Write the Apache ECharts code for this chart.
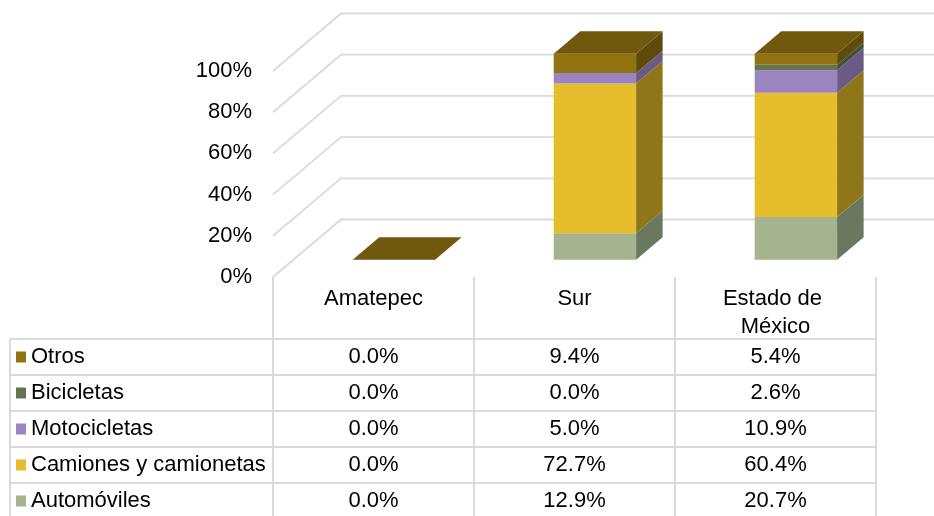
<!DOCTYPE html>
<html>
<head>
<meta charset="utf-8">
<script src="https://cdn.jsdelivr.net/npm/echarts@6/dist/echarts.min.js"></script>
<style>
  html, body { margin: 0; padding: 0; background: #fff; }
  #chart { width: 934px; height: 516px; }
</style>
</head>
<body>
<div id="chart"></div>
<script>
/* 3D-looking stacked column chart (percent share by vehicle type) with a data table below. */
(function () {
  "use strict";

  // ---- data ----
  const CATEGORIES = ["Amatepec", "Sur", "Estado de México"];
  // stack order bottom -> top
  const SERIES_NAMES = ["Automóviles", "Camiones y camionetas", "Motocicletas", "Bicicletas", "Otros"];
  const AUTOMOVILES = [0.0, 12.9, 20.7];
  const CAMIONES = [0.0, 72.7, 60.4];
  const MOTOCICLETAS = [0.0, 5.0, 10.9];
  const BICICLETAS = [0.0, 0.0, 2.6];
  const OTROS = [0.0, 9.4, 5.4];
  const Y_TICKS = [0, 20, 40, 60, 80, 100];

  const VALUES = [AUTOMOVILES, CAMIONES, MOTOCICLETAS, BICICLETAS, OTROS];

  // ---- look ----
  const FONT = "'Liberation Sans', Arial, sans-serif";
  const GRID_COLOR = "#dadada";
  const FRONT = ["#a5b48f", "#e6bd2a", "#9b84bf", "#627450", "#927312"];
  const SIDE = ["#6b7860", "#8f7619", "#6a5a84", "#44523a", "#5e4a0b"];
  const TOP_COLOR = "#70590d";

  // depth projection of the 3D box (full floor depth), bars sit between FRONT_AT and BACK_AT
  const DEPTH_X = 68, DEPTH_Y = -57.5;
  const FRONT_AT = 0.3, BACK_AT = 0.69;
  const BAR_RATIO = 0.41;

  // table layout
  const ROW_CENTERS = [357, 393, 429, 465, 501];
  const ROW_LINES = [339, 375, 411, 447, 483];
  const TABLE_LEFT = 10;
  const GRID = { left: 273, right: 58, top: 71, bottom: 239 };

  const el = document.getElementById("chart");
  const chart = echarts.init(el, null, { renderer: "canvas" });

  // cumulative bases for the stack
  const bases = [];
  let acc = CATEGORIES.map(() => 0);
  VALUES.forEach((vals) => {
    bases.push(acc.slice());
    acc = acc.map((a, i) => a + vals[i]);
  });

  function barRenderer(s) {
    const isTop = s === VALUES.length - 1;
    return function (params, api) {
      const i = api.value(0), lo = api.value(1), hi = api.value(2);
      const b = api.coord([i, lo]);
      const t = api.coord([i, hi]);
      const w = api.size([1, 0])[0] * BAR_RATIO;
      const fx = DEPTH_X * FRONT_AT, fy = DEPTH_Y * FRONT_AT;
      const dx = DEPTH_X * (BACK_AT - FRONT_AT), dy = DEPTH_Y * (BACK_AT - FRONT_AT);
      const x0 = b[0] - w / 2 + fx, x1 = x0 + w;
      const yb = b[1] + fy, yt = t[1] + fy;
      const children = [];
      if (hi > lo) {
        children.push({
          type: "rect", shape: { x: x0, y: yt, width: w, height: yb - yt },
          style: { fill: FRONT[s] },
        });
        children.push({
          type: "polygon",
          shape: { points: [[x1, yb], [x1, yt], [x1 + dx, yt + dy], [x1 + dx, yb + dy]] },
          style: { fill: SIDE[s] },
        });
      }
      if (isTop) {
        children.push({
          type: "polygon",
          shape: { points: [[x0, yt], [x1, yt], [x1 + dx, yt + dy], [x0 + dx, yt + dy]] },
          style: { fill: TOP_COLOR },
        });
      }
      return { type: "group", children };
    };
  }

  function gridRenderer(params, api) {
    const y = api.coord([0, api.value(1)])[1];
    const left = params.coordSys.x;
    const right = params.coordSys.x + params.coordSys.width;
    return {
      type: "polyline",
      shape: { points: [[left, y], [left + DEPTH_X, y + DEPTH_Y], [right + DEPTH_X, y + DEPTH_Y]] },
      style: { stroke: GRID_COLOR, lineWidth: 1.8, fill: null },
    };
  }

  // table rows listed top -> bottom (reverse of stack)
  const tableRows = VALUES.slice().reverse();

  function tableRenderer(params, api) {
    const i = api.value(0);
    const x = api.coord([i, 0])[0];
    return {
      type: "group",
      children: tableRows.map((vals, k) => ({
        type: "text",
        x: x, y: ROW_CENTERS[k],
        style: {
          text: vals[i].toFixed(1) + "%",
          fill: "#000", fontSize: 22, fontFamily: FONT,
          align: "center", verticalAlign: "middle",
        },
      })),
    };
  }

  const series = [{
    type: "custom", name: "grid3d", silent: true, z: 1,
    renderItem: gridRenderer,
    data: Y_TICKS.map((v) => [0, v]),
  }];
  VALUES.forEach((vals, s) => {
    series.push({
      type: "custom", name: SERIES_NAMES[s], z: 2 + s,
      itemStyle: { color: FRONT[s] },
      renderItem: barRenderer(s),
      encode: { x: 0, y: [1, 2] },
      data: vals.map((v, i) => [i, bases[s][i], bases[s][i] + v]),
    });
  });
  series.push({
    type: "custom", name: "tabla", silent: true, z: 10,
    renderItem: tableRenderer,
    data: CATEGORIES.map((c, i) => [i, 0]),
  });

  const tableRight = 934 - GRID.right;
  const graphic = ROW_LINES.map((y) => ({
    type: "line", silent: true,
    shape: { x1: TABLE_LEFT, y1: y, x2: tableRight, y2: y },
    style: { stroke: GRID_COLOR, lineWidth: 2 },
  }));
  graphic.push({
    type: "line", silent: true,
    shape: { x1: TABLE_LEFT, y1: ROW_LINES[0], x2: TABLE_LEFT, y2: 516 },
    style: { stroke: GRID_COLOR, lineWidth: 2 },
  });

  chart.setOption({
    animation: false,
    backgroundColor: "#fff",
    textStyle: { fontFamily: FONT },
    grid: GRID,
    legend: {
      orient: "vertical", left: 16, top: 345, padding: 0,
      itemWidth: 10, itemHeight: 11, itemGap: 12, icon: "rect",
      selectedMode: false,
      textStyle: { fontSize: 22, lineHeight: 24, color: "#000", fontFamily: FONT },
      data: SERIES_NAMES.slice().reverse(),
    },
    xAxis: {
      type: "category", data: CATEGORIES,
      axisLine: { show: false },
      axisTick: { show: true, interval: 0, length: 239, lineStyle: { color: GRID_COLOR, width: 2 } },
      axisLabel: {
        interval: 0,
        color: "#000", fontSize: 22, lineHeight: 28, margin: 8,
        width: 175, overflow: "break", fontFamily: FONT,
      },
      splitLine: { show: false },
    },
    yAxis: {
      type: "value", min: 0, max: 100, interval: 20,
      axisLine: { show: false }, axisTick: { show: false },
      splitLine: { show: false },
      axisLabel: {
        formatter: "{value}%", color: "#000", fontSize: 22, margin: 21,
        padding: [5, 0, 0, 0], fontFamily: FONT,
      },
    },
    graphic,
    series,
  });

  window.addEventListener("resize", () => chart.resize());
})();
</script>
</body>
</html>
